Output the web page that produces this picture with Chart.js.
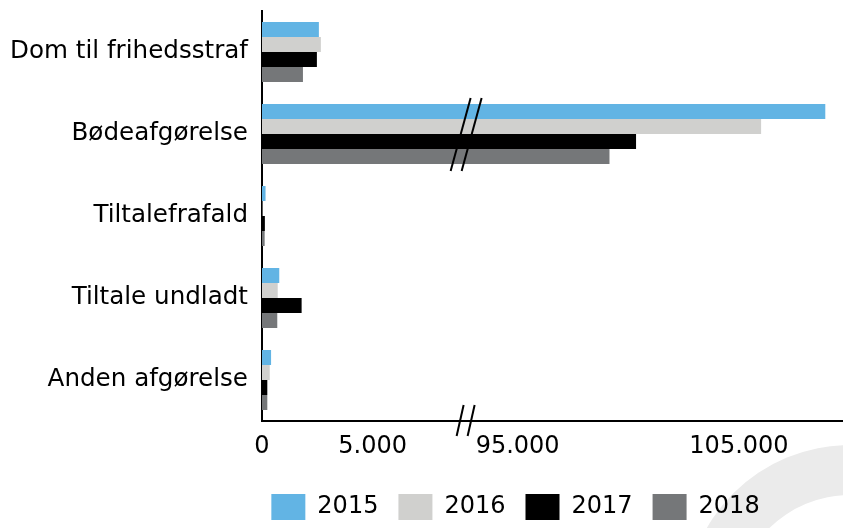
<!DOCTYPE html>
<html><head><meta charset="utf-8">
<script src="https://cdn.jsdelivr.net/npm/chart.js@4"></script>
<style>html,body{margin:0;padding:0;background:#fff;}#wrap{width:843px;height:528px;}</style>
</head><body><div id="wrap"><canvas id="c" width="843" height="528"></canvas></div>
<script>
const categories = ["Dom til frihedsstraf", "Bødeafgørelse", "Tiltalefrafald", "Tiltale undladt", "Anden afgørelse"];
const years = ["2015", "2016", "2017", "2018"];
const values2015 = [2570, 108900, 160, 780, 410];
const values2016 = [2660, 106000, 20, 710, 350];
const values2017 = [2480, 100350, 130, 1790, 240];
const values2018 = [1850, 99150, 120, 690, 240];
const tickValues = [0, 5000, 95000, 105000];
const breakLow = 9200, breakHigh = 92650, axisMax = 109700;

const colors = ["#62b4e4", "#d0d0ce", "#000000", "#757779"];

function mapBroken(v) {
  if (v <= breakLow) return v;
  if (v >= breakHigh) return breakLow + (v - breakHigh);
  return breakLow;
}
class BrokenScale extends Chart.LinearScale {
  getPixelForValue(value) {
    if (value === null || value === undefined || isNaN(value)) return NaN;
    return this.getPixelForDecimal(mapBroken(value) / mapBroken(this.max));
  }
  getValueForPixel(pixel) {
    const d = this.getDecimalForPixel(pixel) * mapBroken(this.max);
    return d <= breakLow ? d : d - breakLow + breakHigh;
  }
}
BrokenScale.id = 'broken';
BrokenScale.defaults = Chart.LinearScale.defaults;
Chart.register(BrokenScale);

function fmt(v) { return String(v).replace(/\B(?=(\d{3})+(?!\d))/g, '.'); }

const watermark = {
  id: 'watermark',
  beforeDraw(chart) {
    const ctx = chart.ctx;
    ctx.save();
    ctx.beginPath();
    ctx.arc(850, 610, 165, 0, Math.PI * 2);
    ctx.arc(850, 610, 115, 0, Math.PI * 2, true);
    ctx.fillStyle = '#ebebeb';
    ctx.fill('evenodd');
    ctx.restore();
  }
};

const legendShift = {
  id: 'legendShift',
  afterLayout(chart) {
    if (chart.legend) { chart.legend.left = 188; }
  }
};

const breakMarks = {
  id: 'breakMarks',
  afterDraw(chart) {
    const ctx = chart.ctx;
    const xs = chart.scales.x, ys = chart.scales.y;
    const bx = xs.getPixelForValue(breakLow);
    const cy = ys.getPixelForValue(1);
    const ay = chart.chartArea.bottom;
    ctx.save();
    ctx.strokeStyle = '#000';
    ctx.lineWidth = 2;
    [-5, 6].forEach(off => {
      ctx.beginPath();
      ctx.moveTo(bx + off + 10, cy - 36);
      ctx.lineTo(bx + off - 10, cy + 37);
      ctx.stroke();
      ctx.beginPath();
      ctx.moveTo(bx + off + 3, ay - 16);
      ctx.lineTo(bx + off - 4, ay + 15);
      ctx.stroke();
    });
    ctx.restore();
  }
};

const seriesValues = [values2015, values2016, values2017, values2018];

Chart.defaults.font.family = "'DejaVu Sans', Verdana, sans-serif";
Chart.defaults.font.size = 24;
Chart.defaults.color = '#000';

new Chart(document.getElementById('c'), {
  type: 'bar',
  data: {
    labels: categories,
    datasets: years.map((y, i) => ({
      label: y,
      data: seriesValues[i],
      backgroundColor: colors[i],
      borderWidth: 0,
      barPercentage: 1,
      categoryPercentage: 0.732
    }))
  },
  options: {
    responsive: false,
    animation: false,
    indexAxis: 'y',
    layout: { padding: { top: 11, right: 0, left: 0, bottom: -2 } },
    plugins: {
      legend: {
        position: 'bottom',
        labels: { boxWidth: 34, boxHeight: 26, padding: 20, font: { size: 24 } }
      },
      tooltip: { enabled: false }
    },
    scales: {
      x: {
        type: 'broken',
        min: 0,
        max: axisMax,
        z: 1,
        grid: { display: false, drawTicks: false },
        border: { display: true, color: '#000', width: 2 },
        afterBuildTicks: (scale) => { scale.ticks = tickValues.map(v => ({ value: v })); },
        afterFit: (scale) => { scale.height = 53; scale.paddingLeft = 0; scale.paddingRight = 0; },
        ticks: { autoSkip: false, maxRotation: 0, padding: 11, callback: (v) => fmt(v), font: { size: 24 } }
      },
      y: {
        z: 1,
        grid: { display: false, drawTicks: false },
        border: { display: true, color: '#000', width: 2 },
        afterFit: (scale) => { scale.width = 262; scale.paddingTop = 0; scale.paddingBottom = 0; },
        ticks: { padding: 14, font: { size: 24.6 } }
      }
    }
  },
  plugins: [watermark, legendShift, breakMarks]
});
</script>
</body></html>
